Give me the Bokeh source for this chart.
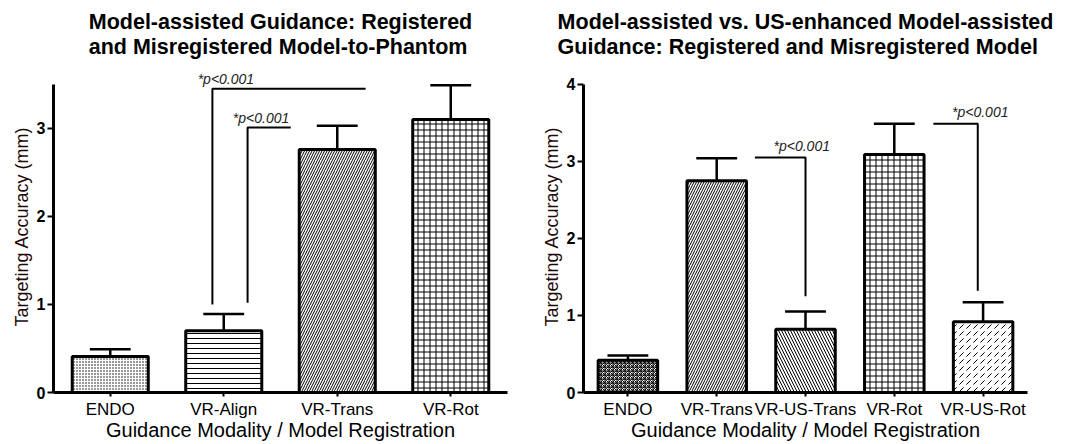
from bokeh.plotting import figure
from bokeh.layouts import row
from bokeh.models import FactorRange, Range1d, ColumnDataSource, FixedTicker
from bokeh.transform import dodge
from bokeh.core.properties import value
from bokeh.embed import file_html
from bokeh.resources import INLINE

# ---------------- data ----------------
left_cats = ["ENDO", "VR-Align", "VR-Trans", "VR-Rot"]
left_means = [0.41, 0.70, 2.76, 3.10]
left_errs = [0.08, 0.19, 0.27, 0.39]
left_hatch = [".", "-", "/", "+"]

right_cats = ["ENDO", "VR-Trans", "VR-US-Trans", "VR-Rot", "VR-US-Rot"]
right_means = [0.42, 2.75, 0.82, 3.09, 0.92]
right_errs = [0.06, 0.29, 0.23, 0.40, 0.25]
right_hatch = ["*", "/", "\\", "+", ","]

left_title = ["Model-assisted Guidance: Registered", "and Misregistered Model-to-Phantom"]
right_title = ["Model-assisted vs. US-enhanced Model-assisted", "Guidance: Registered and Misregistered Model"]
x_label = "Guidance Modality / Model Registration"
y_label = "Targeting Accuracy (mm)"
left_yticks = [0, 1, 2, 3]
right_yticks = [0, 1, 2, 3, 4]
sig_text = "*p<0.001"

# significance brackets: path points (category, offset, value)
left_brackets = [
    [("VR-Align", -0.10, 1.00), ("VR-Align", -0.10, 3.45), ("VR-Trans", 0.25, 3.45)],
    [("VR-Align", 0.21, 1.02), ("VR-Align", 0.21, 3.01), ("VR-Trans", -0.41, 3.01)],
]
left_sig = [("VR-Align", -0.23, 3.47), ("VR-Align", 0.08, 3.03)]
right_brackets = [
    [("VR-Trans", 0.43, 3.05), ("VR-US-Trans", 0.0, 3.05), ("VR-US-Trans", 0.0, 1.25)],
    [("VR-Rot", 0.44, 3.49), ("VR-US-Rot", -0.06, 3.49), ("VR-US-Rot", -0.06, 1.32)],
]
right_sig = [("VR-US-Trans", -0.36, 3.10), ("VR-US-Rot", -0.35, 3.54)]

FONT = "Liberation Sans"


def make_panel(cats, means, errs, hatches, title_lines, yticks, ytop, axis_top,
               width, b_left, b_right, cap_w, hscale, brackets, sigs):
    p = figure(x_range=FactorRange(*cats), y_range=Range1d(0, ytop),
               width=width, height=444, output_backend="svg",
               toolbar_location=None, min_border_left=b_left,
               min_border_right=b_right, min_border_top=60,
               min_border_bottom=52)
    p.outline_line_color = None
    p.grid.visible = False
    p.background_fill_color = "white"
    p.border_fill_color = "white"

    p.title.text = "\n".join(title_lines)
    p.title.align = "center"
    p.title.text_font = FONT
    p.title.text_font_size = "21.5px"
    p.title.text_font_style = "bold"
    p.title.text_color = "black"
    p.title.text_line_height = 1.05
    p.title.standoff = 2

    src = ColumnDataSource(dict(cat=cats, mean=means,
                                top=[m + e for m, e in zip(means, errs)],
                                hatch=hatches, hs=hscale))
    p.vbar(x="cat", top="mean", width=0.67, source=src, fill_color="white",
           line_color="black", line_width=3, hatch_pattern="hatch",
           hatch_color="black", hatch_scale="hs", hatch_weight=1)
    p.segment(x0="cat", y0="mean", x1="cat", y1="top", source=src,
              line_color="black", line_width=2.5)
    p.segment(x0=dodge("cat", -cap_w / 2, range=p.x_range), y0="top",
              x1=dodge("cat", cap_w / 2, range=p.x_range), y1="top",
              source=src, line_color="black", line_width=2.5)

    def pos(c, off):
        return cats.index(c) + 0.5 + off

    xs = [[pos(c, o) for c, o, _ in b] for b in brackets]
    ys = [[v for _, _, v in b] for b in brackets]
    p.multi_line(xs=xs, ys=ys, line_color="black", line_width=2)
    p.text(x=[pos(c, o) for c, o, _ in sigs], y=[v for _, _, v in sigs],
           text=[sig_text] * len(sigs), text_font=value(FONT),
           text_font_size="14px", text_font_style="italic",
           text_color="#222222", text_baseline="bottom", text_align="left")

    # axes
    p.yaxis.bounds = (0, axis_top)
    p.yaxis.ticker = FixedTicker(ticks=yticks)
    p.yaxis.minor_tick_line_color = None
    p.yaxis.major_tick_in = 0
    p.yaxis.major_tick_out = 6
    p.yaxis.major_tick_line_width = 2
    p.yaxis.axis_line_width = 3
    p.yaxis.major_label_text_font = FONT
    p.yaxis.major_label_text_font_size = "16px"
    p.yaxis.major_label_text_font_style = "bold"
    p.yaxis.major_label_text_color = "black"
    p.yaxis.major_label_standoff = 2
    p.yaxis.axis_label = y_label
    p.yaxis.axis_label_text_font = FONT
    p.yaxis.axis_label_text_font_size = "18px"
    p.yaxis.axis_label_text_font_style = "normal"
    p.yaxis.axis_label_text_color = "#1e0808"
    p.yaxis.axis_label_standoff = 2

    p.xaxis.major_tick_in = 0
    p.xaxis.major_tick_out = 4
    p.xaxis.major_tick_line_width = 2
    p.xaxis.axis_line_width = 3
    p.xaxis.major_label_text_font = FONT
    p.xaxis.major_label_text_font_size = "17px"
    p.xaxis.major_label_text_color = "black"
    p.xaxis.major_label_standoff = 3
    p.xaxis.axis_label = x_label
    p.xaxis.axis_label_text_font = FONT
    p.xaxis.axis_label_text_font_size = "20px"
    p.xaxis.axis_label_text_font_style = "normal"
    p.xaxis.axis_label_text_color = "black"
    p.xaxis.axis_label_standoff = -3
    return p


p1 = make_panel(left_cats, left_means, left_errs, left_hatch, left_title,
                left_yticks, 3.77, 3.5, 530, 53, 23, 0.36, [3, 5, 5, 6],
                left_brackets, left_sig)
p2 = make_panel(right_cats, right_means, right_errs, right_hatch, right_title,
                right_yticks, 4.31, 4.0, 541, 53, 44, 0.46, [4, 5, 6, 6, 7],
                right_brackets, right_sig)

layout = row(p1, p2)
open("out.html", "w").write(file_html(layout, INLINE))
